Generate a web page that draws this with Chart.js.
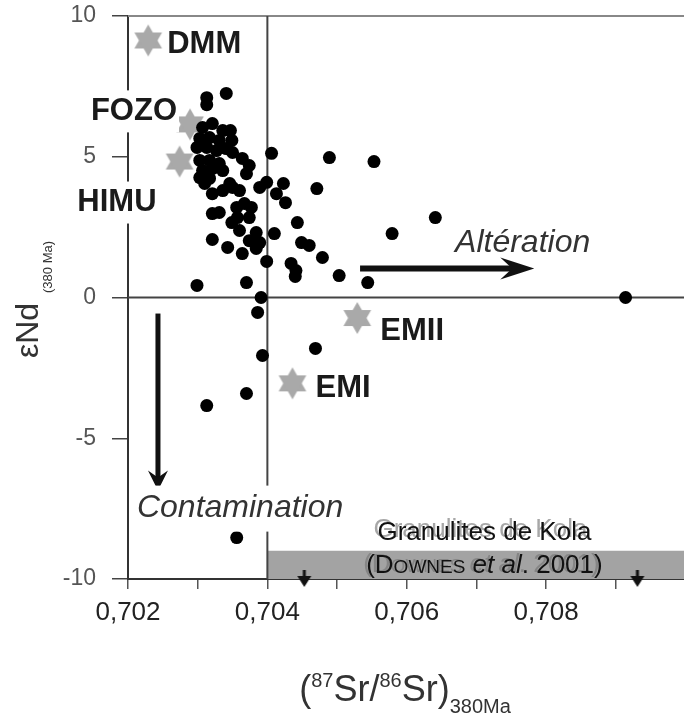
<!DOCTYPE html>
<html>
<head>
<meta charset="utf-8">
<script src="https://cdn.jsdelivr.net/npm/chart.js@4.4.0/dist/chart.umd.min.js"></script>
<style>
html, body { margin: 0; padding: 0; background: #fff; overflow: hidden; }
#wrap { width: 692px; height: 722px; }
</style>
</head>
<body>
<div id="wrap"><canvas id="srNdChart" width="692" height="722"></canvas></div>
<script>
// Sr-Nd des echantillons, recalcules a 380 Ma
const srRatio = [
    0.70313, 0.70313, 0.70341, 0.70307, 0.70321, 0.70336, 0.70347, 0.70303, 0.70317, 0.70331,
    0.70349, 0.70299, 0.70313, 0.70327, 0.70341, 0.70350, 0.70303, 0.70317, 0.70331, 0.70307,
    0.70321, 0.70336, 0.70303, 0.70317, 0.70364, 0.70374, 0.70370, 0.70406, 0.70346, 0.70399,
    0.70423, 0.70489, 0.70553, 0.70310, 0.70321, 0.70336, 0.70350, 0.70360, 0.70389, 0.70413,
    0.70426, 0.70471, 0.70321, 0.70331, 0.70356, 0.70367, 0.70377, 0.70357, 0.70374, 0.70349,
    0.70360, 0.70384, 0.70374, 0.70389, 0.70384, 0.70410, 0.70443, 0.70579, 0.70641, 0.70321,
    0.70343, 0.70364, 0.70449, 0.70460, 0.70479, 0.70399, 0.70434, 0.70441, 0.70503, 0.70544,
    0.70299, 0.70370, 0.70391, 0.70386, 0.70393, 0.70469, 0.70370, 0.70313, 0.70356, 0.70914,
    0.70440
];
const epsNd = [
    7.10, 6.85, 7.25, 6.04, 6.18, 5.93, 5.93, 5.65, 5.68, 5.58,
    5.58, 5.33, 5.33, 5.22, 5.29, 5.15, 4.87, 4.87, 4.76, 4.51,
    4.58, 4.51, 4.26, 4.23, 4.94, 4.69, 4.40, 5.12, 4.05, 4.09,
    4.05, 4.97, 4.83, 4.05, 3.69, 3.80, 3.91, 3.80, 3.91, 3.69,
    3.37, 3.87, 2.98, 3.02, 3.20, 3.34, 3.20, 2.84, 2.84, 2.66,
    2.38, 2.31, 2.02, 1.95, 1.74, 2.27, 2.66, 2.27, 2.84, 2.06,
    1.78, 1.56, 1.95, 1.85, 1.42, 1.28, 1.21, 0.96, 0.78, 0.53,
    0.43, 0.53, 0.00, -0.53, -2.06, -1.81, -3.41, -3.84, -8.53, 0.00,
    0.75
];

// poles mantelliques
const endMemberNames = ['DMM', 'FOZO', 'HIMU', 'EMII', 'EMI'];
const endMemberSr = [0.70229, 0.70289, 0.70274, 0.70529, 0.70436];
const endMemberNd = [9.13, 6.15, 4.83, -0.73, -3.05];

// granulites de Kola (hors echelle, fleches)
const kolaSr = [0.70453, 0.70931];
const kolaNd = [-10, -10];
const kolaBandSr = [0.704, 0.710];
const kolaBandTop = -9;
const kolaBandBottom = -10;

// tendances
const alterationSr = [0.70533, 0.70783];
const alterationNd = [1.03, 1.03];
const contaminationSr = [0.70243, 0.70243];
const contaminationNd = [-0.57, -6.86];

// axes
const xMin = 0.702, xMax = 0.710, xStep = 0.001;
const xLabelValues = [0.702, 0.704, 0.706, 0.708];
const yMin = -10, yMax = 10, yStep = 5;
const refSr = 0.704;
const refNd = 0;

const FONT = "'Liberation Sans', Arial, Helvetica, sans-serif";

function makeHexagram(r, color) {
    const c = document.createElement('canvas');
    const s = Math.ceil(r * 2 + 2);
    c.width = s; c.height = s;
    const g = c.getContext('2d');
    g.fillStyle = color;
    [-Math.PI / 2, Math.PI / 2].forEach(a0 => {
        g.beginPath();
        for (let i = 0; i < 3; i++) {
            const a = a0 + i * 2 * Math.PI / 3;
            g.lineTo(s / 2 + r * Math.cos(a), s / 2 + r * Math.sin(a));
        }
        g.closePath();
        g.fill();
    });
    return c;
}

function makeDownMarker() {
    const c = document.createElement('canvas');
    c.width = 18; c.height = 20;
    const g = c.getContext('2d');
    g.fillStyle = '#111';
    g.fillRect(7.5, 1, 3, 8);
    g.beginPath();
    g.moveTo(2, 7); g.lineTo(16, 7); g.lineTo(9, 18);
    g.closePath();
    g.fill();
    return c;
}

function drawArrow(ctx, x0, y0, x1, y1, w, headLen, headHalf) {
    const ang = Math.atan2(y1 - y0, x1 - x0);
    const len = Math.hypot(x1 - x0, y1 - y0);
    ctx.save();
    ctx.translate(x1, y1);
    ctx.rotate(ang);
    ctx.fillStyle = '#111';
    ctx.fillRect(-len, -w / 2, len - headLen * 0.6, w);
    ctx.beginPath();
    ctx.moveTo(0, 0);
    ctx.lineTo(-headLen, -headHalf);
    ctx.lineTo(-headLen * 0.65, 0);
    ctx.lineTo(-headLen, headHalf);
    ctx.closePath();
    ctx.fill();
    ctx.restore();
}

// draws a list of [text, font, dy] pieces on one baseline, centred on cx
function drawPieces(ctx, pieces, cx, baseY, color) {
    let total = 0;
    pieces.forEach(p => { ctx.font = p[1]; total += ctx.measureText(p[0]).width; });
    let x = cx - total / 2;
    ctx.fillStyle = color;
    ctx.textAlign = 'left';
    ctx.textBaseline = 'alphabetic';
    pieces.forEach(p => {
        ctx.font = p[1];
        ctx.fillText(p[0], x, baseY + (p[2] || 0));
        x += ctx.measureText(p[0]).width;
    });
}

// label offsets from the star, in pixels
const labelOffsets = {
    DMM:  { dx: 19, dy: 4, align: 'left', box: false },
    FOZO: { dx: -13, dy: -13, align: 'right', box: true },
    HIMU: { dx: -23, dy: 41, align: 'right', box: true },
    EMII: { dx: 23, dy: 13, align: 'left', box: false },
    EMI:  { dx: 23, dy: 5, align: 'left', box: false }
};

const annotations = {
    id: 'annotations',
    afterDatasetsDraw(chart) {
        const { ctx, scales: { x, y } } = chart;
        ctx.save();

        // end-member labels
        ctx.font = 'bold 31px ' + FONT;
        ctx.textBaseline = 'middle';
        endMemberNames.forEach((name, i) => {
            const o = labelOffsets[name];
            const px = x.getPixelForValue(endMemberSr[i]) + o.dx;
            const py = y.getPixelForValue(endMemberNd[i]) + o.dy;
            const w = ctx.measureText(name).width;
            if (o.box) {
                ctx.fillStyle = '#fff';
                const left = o.align === 'right' ? px - w : px;
                ctx.fillRect(left - 2, py - 21, w + 4, 42);
            }
            ctx.fillStyle = '#1a1a1a';
            ctx.textAlign = o.align;
            ctx.fillText(name, px, py);
        });

        // Alteration arrow
        const ax0 = x.getPixelForValue(alterationSr[0]), ay0 = y.getPixelForValue(alterationNd[0]);
        const ax1 = x.getPixelForValue(alterationSr[1]), ay1 = y.getPixelForValue(alterationNd[1]);
        drawArrow(ctx, ax0, ay0, ax1, ay1, 6, 34, 11);
        ctx.font = 'italic 32px ' + FONT;
        ctx.fillStyle = '#333';
        ctx.textAlign = 'left';
        ctx.textBaseline = 'middle';
        ctx.fillText('Altération', ax0 + 95, ay0 - 25);

        // Contamination arrow
        const cx0 = x.getPixelForValue(contaminationSr[0]), cy0 = y.getPixelForValue(contaminationNd[0]);
        const cx1 = x.getPixelForValue(contaminationSr[1]), cy1 = y.getPixelForValue(contaminationNd[1]);
        drawArrow(ctx, cx0, cy0, cx1, cy1, 5, 20, 10);
        const ct = 'Contamination';
        const ctw = ctx.measureText(ct).width;
        ctx.fillStyle = '#fff';
        ctx.fillRect(cx1 - 23, cy1 - 5, ctw + 4, 46);
        ctx.fillStyle = '#333';
        ctx.fillText(ct, cx1 - 21, cy1 + 17);

        // Kola granulites caption (grey ghost behind, as in the scan)
        const kx = (x.getPixelForValue(kolaBandSr[0]) + x.getPixelForValue(kolaBandSr[1])) / 2 + 8;
        const kTop = y.getPixelForValue(kolaBandTop);
        const line1 = [['Granulites de Kola', '26px ' + FONT]];
        const line2 = [
            ['(', '26px ' + FONT], ['D', '26px ' + FONT], ['OWNES', '19px ' + FONT],
            [' ', '26px ' + FONT], ['et al', 'italic 26px ' + FONT], ['. 2001)', '26px ' + FONT]
        ];
        drawPieces(ctx, line1, kx - 4, kTop - 14, 'rgba(130,130,130,0.7)');
        drawPieces(ctx, line2, kx - 3, kTop + 21, 'rgba(110,110,110,0.55)');
        drawPieces(ctx, line1, kx, kTop - 11, '#111');
        drawPieces(ctx, line2, kx, kTop + 22, '#111');

        // axis titles
        const sub = '20px ' + FONT, main = '36px ' + FONT;
        drawPieces(ctx, [
            ['(', main], ['87', sub, -14], ['Sr/', main], ['86', sub, -14], ['Sr)', main], ['380Ma', sub, 12]
        ], 405, 701, '#333');

        ctx.save();
        ctx.rotate(-Math.PI / 2);
        ctx.textAlign = 'left';
        ctx.textBaseline = 'alphabetic';
        ctx.fillStyle = '#333';
        ctx.font = '32px ' + FONT;
        ctx.fillText('εNd', -358, 38);
        ctx.font = '13px ' + FONT;
        ctx.fillText('(380 Ma)', -293, 52);
        ctx.restore();

        ctx.restore();
    }
};

const xy = (xs, ys) => xs.map((v, i) => ({ x: v, y: ys[i] }));

new Chart(document.getElementById('srNdChart'), {
    type: 'scatter',
    data: {
        datasets: [{
            label: 'Echantillons',
            data: xy(srRatio, epsNd),
            backgroundColor: '#000',
            borderWidth: 0,
            pointRadius: 6.5,
            order: 1
        }, {
            label: 'Poles mantelliques',
            data: xy(endMemberSr, endMemberNd),
            pointStyle: makeHexagram(16, '#a9a9a9'),
            order: 2
        }, {
            label: 'Granulites de Kola',
            data: xy(kolaSr, kolaNd),
            pointStyle: makeDownMarker(),
            clip: false,
            order: 0
        }, {
            type: 'line',
            label: 'bande Kola',
            data: xy(kolaBandSr, [kolaBandTop, kolaBandTop]),
            fill: { value: kolaBandBottom },
            backgroundColor: '#a3a3a3',
            borderWidth: 0,
            pointRadius: 0,
            order: 10
        }, {
            type: 'line',
            label: 'eNd = 0',
            data: xy([xMin, xMax], [refNd, refNd]),
            borderColor: '#444',
            borderWidth: 2,
            pointRadius: 0,
            clip: false,
            order: 9
        }, {
            type: 'line',
            label: 'Sr = 0.704',
            data: xy([refSr, refSr], [yMin, yMax]),
            borderColor: '#444',
            borderWidth: 2,
            pointRadius: 0,
            order: 9
        }, {
            type: 'line',
            label: 'cadre',
            data: xy([xMin, xMax], [yMax, yMax]),
            borderColor: '#888',
            borderWidth: 2,
            pointRadius: 0,
            clip: false,
            order: 9
        }]
    },
    options: {
        responsive: false,
        animation: false,
        layout: { padding: { top: 16, right: 1, left: 0, bottom: 0 } },
        plugins: {
            legend: { display: false },
            tooltip: { enabled: false }
        },
        scales: {
            x: {
                type: 'linear',
                min: xMin,
                max: xMax,
                afterFit: s => { s.height = 143; s.paddingLeft = 0; s.paddingRight = 0; },
                afterBuildTicks: s => {
                    s.ticks = s.ticks.filter(t => t.value < xMax - xStep / 2);
                },
                ticks: {
                    stepSize: xStep,
                    autoSkip: false,
                    maxRotation: 0,
                    padding: 8,
                    color: '#222',
                    font: { family: FONT, size: 26 },
                    callback: v => {
                        const hit = xLabelValues.find(l => Math.abs(l - v) < xStep / 10);
                        return hit === undefined ? '' : hit.toFixed(3).replace('.', ',');
                    }
                },
                grid: { drawOnChartArea: false, color: '#555', lineWidth: 1.5, tickLength: 10 },
                border: { color: '#333', width: 2 }
            },
            y: {
                min: yMin,
                max: yMax,
                afterFit: s => { s.width = 128; s.paddingTop = 0; s.paddingBottom = 0; },
                ticks: {
                    stepSize: yStep,
                    padding: 16,
                    color: '#555',
                    font: { family: FONT, size: 23 }
                },
                grid: { drawOnChartArea: false, color: '#444', lineWidth: 1.5, tickLength: 16 },
                border: { color: '#333', width: 2 }
            }
        }
    },
    plugins: [annotations]
});
</script>
</body>
</html>
